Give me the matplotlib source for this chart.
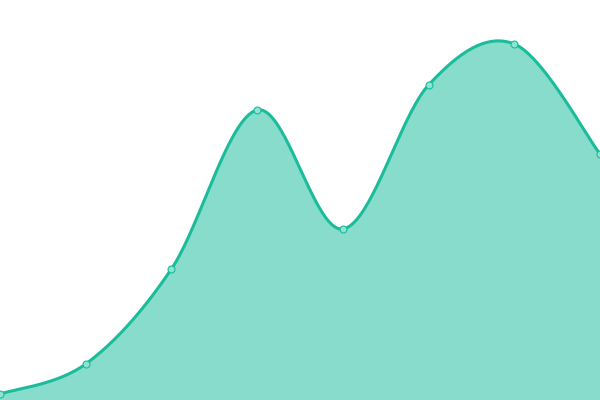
import numpy as np
import matplotlib.pyplot as plt

x_vals = [0, 1, 2, 3, 4, 5, 6, 7]
y_vals = [6, 36, 131, 290, 171, 315, 356, 246]

line_color = '#1abc9c'


def catmull_rom(xs, ys, n=40, tension=0.5):
    xs = np.asarray(xs, dtype=float)
    ys = np.asarray(ys, dtype=float)
    px = np.concatenate([[xs[0]], xs, [xs[-1]]])
    py = np.concatenate([[ys[0]], ys, [ys[-1]]])
    out_x, out_y = [], []
    for i in range(1, len(px) - 2):
        t = np.linspace(0, 1, n, endpoint=False)
        m1x = tension * (px[i + 1] - px[i - 1])
        m1y = tension * (py[i + 1] - py[i - 1])
        m2x = tension * (px[i + 2] - px[i])
        m2y = tension * (py[i + 2] - py[i])
        h00 = 2 * t**3 - 3 * t**2 + 1
        h10 = t**3 - 2 * t**2 + t
        h01 = -2 * t**3 + 3 * t**2
        h11 = t**3 - t**2
        out_x.append(h00 * px[i] + h10 * m1x + h01 * px[i + 1] + h11 * m2x)
        out_y.append(h00 * py[i] + h10 * m1y + h01 * py[i + 1] + h11 * m2y)
    out_x.append([xs[-1]])
    out_y.append([ys[-1]])
    return np.concatenate(out_x), np.concatenate(out_y)


sx, sy = catmull_rom(x_vals, y_vals)

fig = plt.figure(figsize=(6, 4), dpi=100)
ax = fig.add_axes([0, 0, 1, 1])
ax.fill_between(sx, sy, 0, color=line_color, alpha=0.52, linewidth=0)
ax.plot(sx, sy, color=line_color, linewidth=2.2)
ax.plot(x_vals, y_vals, 'o', markersize=5, markerfacecolor='#8ee3d2',
        markeredgecolor=line_color, markeredgewidth=0.8)
ax.set_xlim(0, 7)
ax.set_ylim(0, 400)
ax.axis('off')
fig.savefig('out.png', dpi=100)
